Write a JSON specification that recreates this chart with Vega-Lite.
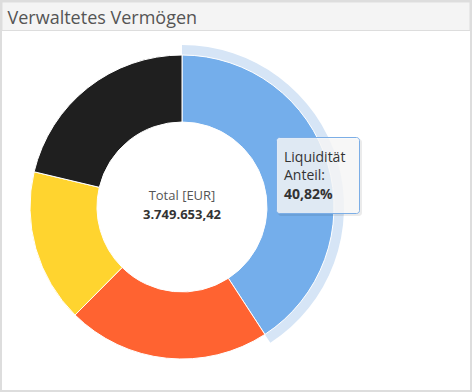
{
  "$schema": "https://vega.github.io/schema/vega-lite/v6.json",
  "width": 472,
  "height": 392,
  "autosize": {"type": "none"},
  "padding": 0,
  "background": "#ffffff",
  "config": {"view": {"stroke": "#dddddd", "strokeWidth": 4}, "font": "Open Sans"},
  "datasets": {
    "segments": [
      {"name": "Liquidität", "share": 40.82, "idx": 1},
      {"name": "Kategorie 2", "share": 21.6, "idx": 2},
      {"name": "Kategorie 3", "share": 16.3, "idx": 3},
      {"name": "Kategorie 4", "share": 21.28, "idx": 4}
    ],
    "header": [{"title": "Verwaltetes Vermögen", "label": "Total [EUR]", "total": "3.749.653,42"}],
    "tip": [{"name": "Liquidität", "label": "Anteil:", "pct": "40,82%"}]
  },
  "layer": [
    {
      "data": {"name": "header"},
      "mark": {"type": "rect", "fill": "#f4f4f4", "stroke": "#dddddd", "strokeWidth": 1},
      "encoding": {"x": {"value": 2}, "x2": {"value": 470}, "y": {"value": 2}, "y2": {"value": 30.5}}
    },
    {
      "data": {"name": "header"},
      "mark": {"type": "text", "align": "left", "baseline": "alphabetic", "fontSize": 18, "color": "#555555", "font": "Open Sans"},
      "encoding": {"text": {"field": "title"}, "x": {"value": 7.5}, "y": {"value": 24}}
    },
    {
      "data": {"name": "segments"},
      "mark": {"type": "arc", "innerRadius": 152, "outerRadius": 162, "x": 182, "y": 207, "stroke": "#ffffff", "strokeWidth": 1},
      "encoding": {
        "theta": {"field": "share", "type": "quantitative", "stack": true},
        "order": {"field": "idx", "type": "quantitative"},
        "fill": {"condition": {"test": "datum.name === 'Liquidität'", "value": "#d6e5f6"}, "value": "transparent"},
        "strokeOpacity": {"value": 0}
      }
    },
    {
      "data": {"name": "segments"},
      "mark": {"type": "arc", "innerRadius": 85, "outerRadius": 152, "x": 182, "y": 207, "stroke": "#ffffff", "strokeWidth": 1},
      "encoding": {
        "theta": {"field": "share", "type": "quantitative", "stack": true},
        "order": {"field": "idx", "type": "quantitative"},
        "color": {
          "field": "name",
          "type": "nominal",
          "scale": {"domain": ["Liquidität", "Kategorie 2", "Kategorie 3", "Kategorie 4"], "range": ["#74aeeb", "#ff6331", "#ffd42f", "#1f1f1f"]},
          "legend": null
        }
      }
    },
    {
      "data": {"name": "header"},
      "mark": {"type": "text", "align": "center", "baseline": "alphabetic", "fontSize": 13, "color": "#555555", "font": "Open Sans"},
      "encoding": {"text": {"field": "label"}, "x": {"value": 182}, "y": {"value": 200}}
    },
    {
      "data": {"name": "header"},
      "mark": {"type": "text", "align": "center", "baseline": "alphabetic", "fontSize": 13, "fontWeight": "bold", "color": "#333333", "font": "Open Sans"},
      "encoding": {"text": {"field": "total"}, "x": {"value": 182}, "y": {"value": 219}}
    },
    {
      "data": {"name": "tip"},
      "mark": {"type": "rect", "fill": "#000000", "opacity": 0.08, "cornerRadius": 3},
      "encoding": {"x": {"value": 278}, "x2": {"value": 362}, "y": {"value": 139}, "y2": {"value": 216}}
    },
    {
      "data": {"name": "tip"},
      "mark": {"type": "rect", "fill": "#f9f9f9", "fillOpacity": 0.82, "stroke": "#7caee6", "strokeWidth": 1, "cornerRadius": 3},
      "encoding": {"x": {"value": 276.5}, "x2": {"value": 359.5}, "y": {"value": 137.5}, "y2": {"value": 213.5}}
    },
    {
      "data": {"name": "tip"},
      "mark": {"type": "text", "align": "left", "baseline": "alphabetic", "fontSize": 14, "color": "#333333", "font": "Open Sans"},
      "encoding": {"text": {"field": "name"}, "x": {"value": 284}, "y": {"value": 161.5}}
    },
    {
      "data": {"name": "tip"},
      "mark": {"type": "text", "align": "left", "baseline": "alphabetic", "fontSize": 14, "color": "#333333", "font": "Open Sans"},
      "encoding": {"text": {"field": "label"}, "x": {"value": 284}, "y": {"value": 180}}
    },
    {
      "data": {"name": "tip"},
      "mark": {"type": "text", "align": "left", "baseline": "alphabetic", "fontSize": 14, "fontWeight": "bold", "color": "#333333", "font": "Open Sans"},
      "encoding": {"text": {"field": "pct"}, "x": {"value": 284}, "y": {"value": 198.5}}
    }
  ]
}
